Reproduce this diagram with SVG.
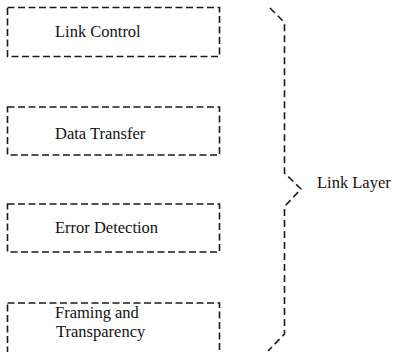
<svg xmlns="http://www.w3.org/2000/svg" width="395" height="352" viewBox="0 0 395 352">
<style>
.box{fill:none;stroke:#1a1a1a;stroke-width:1.6;stroke-dasharray:7 3.5}
.lbl{font-family:"Liberation Serif","Times New Roman",serif;font-size:16.5px;fill:#111}
.brace{fill:none;stroke:#1a1a1a;stroke-width:1.6;stroke-dasharray:7 4;stroke-linejoin:round}
</style>
<rect width="395" height="352" fill="#fff"/>
<g id="link-control">
<rect class="box" x="7.5" y="7.5" width="212" height="49"/>
<text class="lbl" x="55" y="37">Link Control</text>
</g>
<g id="data-transfer">
<rect class="box" x="7.5" y="107" width="212" height="48"/>
<text class="lbl" x="55" y="139">Data  Transfer</text>
</g>
<g id="error-detection">
<rect class="box" x="7.5" y="204" width="212" height="48"/>
<text class="lbl" x="55" y="233">Error Detection</text>
</g>
<g id="framing">
<rect class="box" x="7.5" y="303" width="212" height="60"/>
<text class="lbl" x="55" y="318">Framing and</text>
<text class="lbl" x="56" y="337">Transparency</text>
</g>
<g id="connectors">
<path class="brace" d="M270 8 L283 21 L284.5 24 L284.5 173 L301 189 L286 205 L284.5 209 L284.5 334 L268 351"/>
</g>
<g id="link-layer">
<text class="lbl" x="317" y="188">Link Layer</text>
</g>
</svg>
